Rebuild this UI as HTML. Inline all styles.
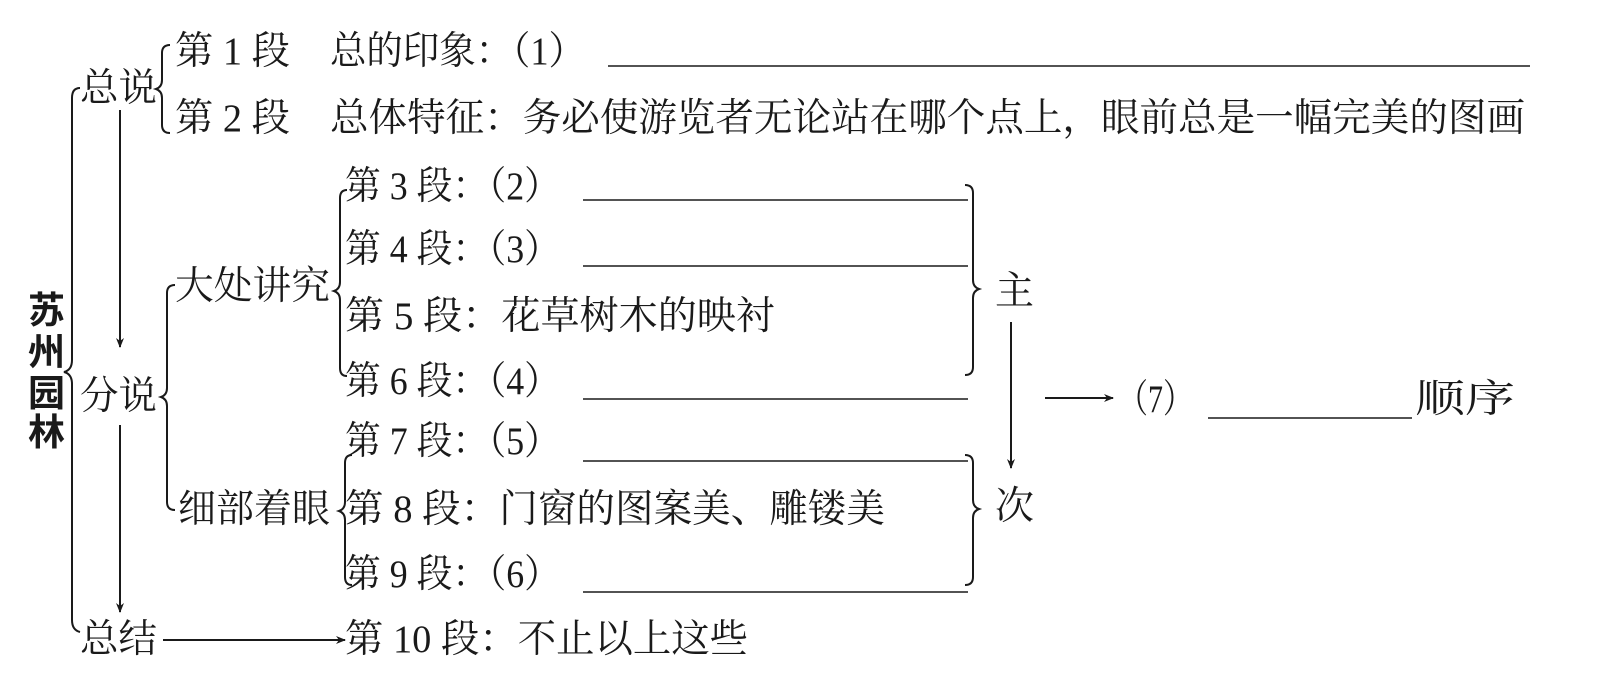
<!DOCTYPE html>
<html><head><meta charset="utf-8"><style>
html,body{margin:0;padding:0;background:#fff;}
svg{display:block}
text{font-family:"Liberation Serif","Noto Serif CJK SC",serif;font-size:39px;fill:#1a1a1a;}
.b{font-family:"Liberation Sans","Noto Sans CJK SC",sans-serif;font-weight:bold;font-size:37px;}
</style></head><body>
<svg width="1612" height="697" viewBox="0 0 1612 697" xmlns="http://www.w3.org/2000/svg">
<defs><marker id="a" markerWidth="10" markerHeight="10" refX="9" refY="5" orient="auto" markerUnits="userSpaceOnUse"><path d="M0,1 L10,5 L0,9 L3,5 Z" fill="#1a1a1a"/></marker></defs>
<g fill="none" stroke="#1a1a1a" stroke-width="2">
<path d="M80,88 Q72,88 72,98 L72,360 Q72,370 64,372 Q72,374 72,384 L72,620 Q72,630 80,632"/>
<path d="M170,45 Q162,45 162,53 L162,80 Q162,87 156,89 Q162,91 162,98 L162,125 Q162,133 170,133"/>
<path d="M175,285 Q167,285 167,293 L167,388 Q167,395 161,397 Q167,399 167,406 L167,502 Q167,510 175,510"/>
<path d="M347,190 Q340,190 340,198 L340,282 Q340,289 334,291 Q340,293 340,300 L340,368 Q340,376 347,376"/>
<path d="M352,455 Q345,455 345,463 L345,502 Q345,509 339,511 Q345,513 345,520 L345,577 Q345,585 352,585"/>
<path d="M965,185 Q973,185 973,193 L973,280 Q973,287 979,289 Q973,291 973,298 L973,367 Q973,375 965,375"/>
<path d="M965,455 Q973,455 973,463 L973,500 Q973,507 979,509 Q973,511 973,518 L973,577 Q973,585 965,585"/>
<path d="M120,110 L120,347" marker-end="url(#a)"/>
<path d="M120,425 L120,612" marker-end="url(#a)"/>
<path d="M163,640 L345,640" marker-end="url(#a)"/>
<path d="M1011,322 L1011,468" marker-end="url(#a)"/>
<path d="M1045,398 L1113,398" marker-end="url(#a)"/>
</g>
<g stroke="#1a1a1a" stroke-width="1.6">
<line x1="608" y1="66" x2="1530" y2="66"/>
<line x1="583" y1="200" x2="968" y2="200"/>
<line x1="583" y1="266" x2="968" y2="266"/>
<line x1="583" y1="399" x2="968" y2="399"/>
<line x1="583" y1="461" x2="968" y2="461"/>
<line x1="583" y1="592" x2="968" y2="592"/>
<line x1="1208" y1="418" x2="1412" y2="418"/>
</g>
<text class="b" x="28" y="323">苏</text>
<text class="b" x="28" y="365">州</text>
<text class="b" x="28" y="406">园</text>
<text class="b" x="28" y="445">林</text>
<text x="80" y="101" textLength="77" lengthAdjust="spacingAndGlyphs">总说</text>
<text x="80" y="409" textLength="77" lengthAdjust="spacingAndGlyphs">分说</text>
<text x="80" y="652" textLength="77" lengthAdjust="spacingAndGlyphs">总结</text>
<text x="175" y="64" textLength="115" lengthAdjust="spacingAndGlyphs">第 1 段</text>
<text x="330" y="64" textLength="255" lengthAdjust="spacingAndGlyphs">总的印象：（1）</text>
<text x="175" y="131" textLength="115" lengthAdjust="spacingAndGlyphs">第 2 段</text>
<text x="330" y="131" textLength="1195" lengthAdjust="spacingAndGlyphs">总体特征：务必使游览者无论站在哪个点上，眼前总是一幅完美的图画</text>
<text x="175" y="299" textLength="155" lengthAdjust="spacingAndGlyphs">大处讲究</text>
<text x="178" y="522" textLength="152" lengthAdjust="spacingAndGlyphs">细部着眼</text>
<text x="345" y="199" textLength="215" lengthAdjust="spacingAndGlyphs">第 3 段：（2）</text>
<text x="345" y="262" textLength="215" lengthAdjust="spacingAndGlyphs">第 4 段：（3）</text>
<text x="345" y="329" textLength="430" lengthAdjust="spacingAndGlyphs">第 5 段：花草树木的映衬</text>
<text x="345" y="394" textLength="215" lengthAdjust="spacingAndGlyphs">第 6 段：（4）</text>
<text x="345" y="454" textLength="215" lengthAdjust="spacingAndGlyphs">第 7 段：（5）</text>
<text x="345" y="522" textLength="540" lengthAdjust="spacingAndGlyphs">第 8 段：门窗的图案美、雕镂美</text>
<text x="345" y="587" textLength="215" lengthAdjust="spacingAndGlyphs">第 9 段：（6）</text>
<text x="345" y="652" textLength="403" lengthAdjust="spacingAndGlyphs">第 10 段：不止以上这些</text>
<text x="995" y="304">主</text>
<text x="995" y="519">次</text>
<text x="1118" y="412" textLength="75" lengthAdjust="spacingAndGlyphs">（7）</text>
<text x="1415" y="412" textLength="100" lengthAdjust="spacingAndGlyphs">顺序</text>
</svg>
</body></html>
